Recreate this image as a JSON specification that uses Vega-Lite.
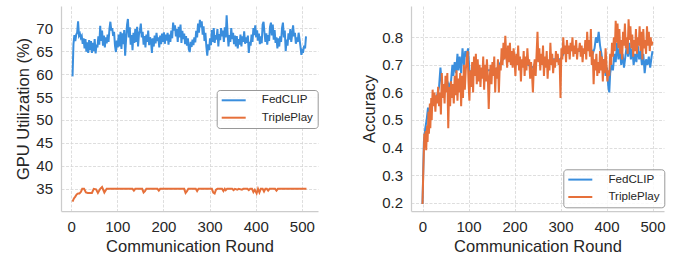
{
  "$schema": "https://vega.github.io/schema/vega-lite/v6.json",
  "padding": {"left": 15, "top": 6, "right": 0, "bottom": 0},
  "config": {
    "font": "Liberation Sans",
    "view": {"stroke": null},
    "axis": {"labelFontSize": 15, "titleFontSize": 16.5, "titleFontWeight": "normal", "labelColor": "#262626", "titleColor": "#262626", "ticks": false, "domainColor": "#cccccc", "domainWidth": 1.25, "gridColor": "#d5d5d5", "gridDash": [3, 1.5], "gridWidth": 0.8, "labelPadding": 8.5, "titlePadding": 4},
    "legend": {"title": null, "orient": "none", "padding": 4.5, "fillColor": "rgba(255,255,255,0.8)", "strokeColor": "#999999", "cornerRadius": 3, "symbolType": "M-4,0H4", "symbolSize": 36, "symbolStrokeWidth": 2, "symbolOffset": 6.7, "labelOffset": 22.3, "rowPadding": 4.4, "labelFontSize": 11.6, "labelColor": "#262626"},
    "line": {"strokeWidth": 2}
  },
  "bounds": "flush",
  "spacing": 93,
  "resolve": {"scale": {"color": "independent"}, "legend": {"color": "independent"}},
  "hconcat": [
    {
      "width": 257, "height": 205,
      "data": {"values": [
        {"r":3,"v":59.5,"m":"FedCLIP"},{"r":5,"v":66.5,"m":"FedCLIP"},{"r":7,"v":68.5,"m":"FedCLIP"},{"r":9,"v":67.2,"m":"FedCLIP"},{"r":11,"v":68.6,"m":"FedCLIP"},{"r":13,"v":69.0,"m":"FedCLIP"},{"r":15,"v":71.5,"m":"FedCLIP"},{"r":17,"v":68.4,"m":"FedCLIP"},{"r":19,"v":68.8,"m":"FedCLIP"},{"r":21,"v":67.9,"m":"FedCLIP"},{"r":23,"v":68.3,"m":"FedCLIP"},{"r":25,"v":66.6,"m":"FedCLIP"},{"r":27,"v":67.8,"m":"FedCLIP"},{"r":29,"v":65.6,"m":"FedCLIP"},{"r":31,"v":67.6,"m":"FedCLIP"},{"r":33,"v":64.9,"m":"FedCLIP"},{"r":35,"v":66.9,"m":"FedCLIP"},{"r":37,"v":64.6,"m":"FedCLIP"},{"r":39,"v":67.4,"m":"FedCLIP"},{"r":41,"v":65.2,"m":"FedCLIP"},{"r":43,"v":67.2,"m":"FedCLIP"},{"r":45,"v":64.6,"m":"FedCLIP"},{"r":47,"v":66.8,"m":"FedCLIP"},{"r":49,"v":65.0,"m":"FedCLIP"},{"r":51,"v":67.6,"m":"FedCLIP"},{"r":53,"v":64.5,"m":"FedCLIP"},{"r":55,"v":66.4,"m":"FedCLIP"},{"r":57,"v":65.8,"m":"FedCLIP"},{"r":59,"v":68.2,"m":"FedCLIP"},{"r":61,"v":66.4,"m":"FedCLIP"},{"r":63,"v":70.5,"m":"FedCLIP"},{"r":65,"v":67.2,"m":"FedCLIP"},{"r":67,"v":69.5,"m":"FedCLIP"},{"r":69,"v":66.2,"m":"FedCLIP"},{"r":71,"v":68.4,"m":"FedCLIP"},{"r":73,"v":65.8,"m":"FedCLIP"},{"r":75,"v":68.0,"m":"FedCLIP"},{"r":77,"v":66.7,"m":"FedCLIP"},{"r":79,"v":68.6,"m":"FedCLIP"},{"r":81,"v":67.0,"m":"FedCLIP"},{"r":83,"v":69.8,"m":"FedCLIP"},{"r":85,"v":71.4,"m":"FedCLIP"},{"r":87,"v":69.5,"m":"FedCLIP"},{"r":89,"v":70.0,"m":"FedCLIP"},{"r":91,"v":68.3,"m":"FedCLIP"},{"r":93,"v":69.2,"m":"FedCLIP"},{"r":95,"v":66.2,"m":"FedCLIP"},{"r":97,"v":64.8,"m":"FedCLIP"},{"r":99,"v":67.3,"m":"FedCLIP"},{"r":101,"v":65.8,"m":"FedCLIP"},{"r":103,"v":68.6,"m":"FedCLIP"},{"r":105,"v":66.0,"m":"FedCLIP"},{"r":107,"v":69.2,"m":"FedCLIP"},{"r":109,"v":65.5,"m":"FedCLIP"},{"r":111,"v":68.9,"m":"FedCLIP"},{"r":113,"v":66.5,"m":"FedCLIP"},{"r":115,"v":69.6,"m":"FedCLIP"},{"r":117,"v":64.0,"m":"FedCLIP"},{"r":119,"v":67.5,"m":"FedCLIP"},{"r":121,"v":70.6,"m":"FedCLIP"},{"r":123,"v":72.0,"m":"FedCLIP"},{"r":125,"v":68.0,"m":"FedCLIP"},{"r":127,"v":70.2,"m":"FedCLIP"},{"r":129,"v":66.4,"m":"FedCLIP"},{"r":131,"v":68.5,"m":"FedCLIP"},{"r":133,"v":65.2,"m":"FedCLIP"},{"r":135,"v":69.0,"m":"FedCLIP"},{"r":137,"v":66.8,"m":"FedCLIP"},{"r":139,"v":69.8,"m":"FedCLIP"},{"r":141,"v":67.0,"m":"FedCLIP"},{"r":143,"v":70.3,"m":"FedCLIP"},{"r":145,"v":66.0,"m":"FedCLIP"},{"r":147,"v":68.7,"m":"FedCLIP"},{"r":149,"v":69.5,"m":"FedCLIP"},{"r":151,"v":71.0,"m":"FedCLIP"},{"r":153,"v":68.0,"m":"FedCLIP"},{"r":155,"v":69.2,"m":"FedCLIP"},{"r":157,"v":66.4,"m":"FedCLIP"},{"r":159,"v":68.3,"m":"FedCLIP"},{"r":161,"v":65.8,"m":"FedCLIP"},{"r":163,"v":68.6,"m":"FedCLIP"},{"r":165,"v":67.0,"m":"FedCLIP"},{"r":167,"v":69.5,"m":"FedCLIP"},{"r":169,"v":66.3,"m":"FedCLIP"},{"r":171,"v":68.0,"m":"FedCLIP"},{"r":173,"v":67.4,"m":"FedCLIP"},{"r":175,"v":64.6,"m":"FedCLIP"},{"r":177,"v":67.8,"m":"FedCLIP"},{"r":179,"v":66.0,"m":"FedCLIP"},{"r":181,"v":68.4,"m":"FedCLIP"},{"r":183,"v":66.7,"m":"FedCLIP"},{"r":185,"v":69.0,"m":"FedCLIP"},{"r":187,"v":67.2,"m":"FedCLIP"},{"r":189,"v":68.0,"m":"FedCLIP"},{"r":191,"v":65.8,"m":"FedCLIP"},{"r":193,"v":68.4,"m":"FedCLIP"},{"r":195,"v":66.5,"m":"FedCLIP"},{"r":197,"v":68.8,"m":"FedCLIP"},{"r":199,"v":67.0,"m":"FedCLIP"},{"r":201,"v":69.1,"m":"FedCLIP"},{"r":203,"v":66.6,"m":"FedCLIP"},{"r":205,"v":68.6,"m":"FedCLIP"},{"r":207,"v":67.3,"m":"FedCLIP"},{"r":209,"v":69.0,"m":"FedCLIP"},{"r":211,"v":66.4,"m":"FedCLIP"},{"r":213,"v":68.6,"m":"FedCLIP"},{"r":215,"v":67.0,"m":"FedCLIP"},{"r":217,"v":69.5,"m":"FedCLIP"},{"r":219,"v":67.8,"m":"FedCLIP"},{"r":221,"v":71.2,"m":"FedCLIP"},{"r":223,"v":69.5,"m":"FedCLIP"},{"r":225,"v":70.6,"m":"FedCLIP"},{"r":227,"v":68.2,"m":"FedCLIP"},{"r":229,"v":69.8,"m":"FedCLIP"},{"r":231,"v":67.0,"m":"FedCLIP"},{"r":233,"v":70.3,"m":"FedCLIP"},{"r":235,"v":68.0,"m":"FedCLIP"},{"r":237,"v":70.8,"m":"FedCLIP"},{"r":239,"v":66.8,"m":"FedCLIP"},{"r":241,"v":69.4,"m":"FedCLIP"},{"r":243,"v":67.6,"m":"FedCLIP"},{"r":245,"v":68.8,"m":"FedCLIP"},{"r":247,"v":66.5,"m":"FedCLIP"},{"r":249,"v":68.3,"m":"FedCLIP"},{"r":251,"v":66.2,"m":"FedCLIP"},{"r":253,"v":67.8,"m":"FedCLIP"},{"r":255,"v":65.4,"m":"FedCLIP"},{"r":257,"v":64.8,"m":"FedCLIP"},{"r":259,"v":67.0,"m":"FedCLIP"},{"r":261,"v":65.9,"m":"FedCLIP"},{"r":263,"v":67.5,"m":"FedCLIP"},{"r":265,"v":66.3,"m":"FedCLIP"},{"r":267,"v":68.0,"m":"FedCLIP"},{"r":269,"v":66.9,"m":"FedCLIP"},{"r":271,"v":69.4,"m":"FedCLIP"},{"r":273,"v":68.0,"m":"FedCLIP"},{"r":275,"v":71.0,"m":"FedCLIP"},{"r":277,"v":69.0,"m":"FedCLIP"},{"r":279,"v":71.8,"m":"FedCLIP"},{"r":281,"v":70.2,"m":"FedCLIP"},{"r":283,"v":71.5,"m":"FedCLIP"},{"r":285,"v":68.6,"m":"FedCLIP"},{"r":287,"v":70.4,"m":"FedCLIP"},{"r":289,"v":67.2,"m":"FedCLIP"},{"r":291,"v":69.0,"m":"FedCLIP"},{"r":293,"v":66.0,"m":"FedCLIP"},{"r":295,"v":64.0,"m":"FedCLIP"},{"r":297,"v":66.5,"m":"FedCLIP"},{"r":299,"v":65.2,"m":"FedCLIP"},{"r":301,"v":67.8,"m":"FedCLIP"},{"r":303,"v":66.3,"m":"FedCLIP"},{"r":305,"v":69.6,"m":"FedCLIP"},{"r":307,"v":67.0,"m":"FedCLIP"},{"r":309,"v":70.0,"m":"FedCLIP"},{"r":311,"v":66.8,"m":"FedCLIP"},{"r":313,"v":68.5,"m":"FedCLIP"},{"r":315,"v":67.5,"m":"FedCLIP"},{"r":317,"v":69.8,"m":"FedCLIP"},{"r":319,"v":66.0,"m":"FedCLIP"},{"r":321,"v":68.7,"m":"FedCLIP"},{"r":323,"v":67.4,"m":"FedCLIP"},{"r":325,"v":70.0,"m":"FedCLIP"},{"r":327,"v":68.2,"m":"FedCLIP"},{"r":329,"v":69.5,"m":"FedCLIP"},{"r":331,"v":67.0,"m":"FedCLIP"},{"r":333,"v":70.2,"m":"FedCLIP"},{"r":335,"v":68.0,"m":"FedCLIP"},{"r":337,"v":72.8,"m":"FedCLIP"},{"r":339,"v":69.0,"m":"FedCLIP"},{"r":341,"v":66.0,"m":"FedCLIP"},{"r":343,"v":68.5,"m":"FedCLIP"},{"r":345,"v":67.0,"m":"FedCLIP"},{"r":347,"v":70.0,"m":"FedCLIP"},{"r":349,"v":67.6,"m":"FedCLIP"},{"r":351,"v":69.0,"m":"FedCLIP"},{"r":353,"v":66.5,"m":"FedCLIP"},{"r":355,"v":68.4,"m":"FedCLIP"},{"r":357,"v":66.0,"m":"FedCLIP"},{"r":359,"v":68.3,"m":"FedCLIP"},{"r":361,"v":65.6,"m":"FedCLIP"},{"r":363,"v":67.6,"m":"FedCLIP"},{"r":365,"v":66.4,"m":"FedCLIP"},{"r":367,"v":68.6,"m":"FedCLIP"},{"r":369,"v":66.0,"m":"FedCLIP"},{"r":371,"v":68.2,"m":"FedCLIP"},{"r":373,"v":67.0,"m":"FedCLIP"},{"r":375,"v":69.3,"m":"FedCLIP"},{"r":377,"v":66.6,"m":"FedCLIP"},{"r":379,"v":68.0,"m":"FedCLIP"},{"r":381,"v":66.8,"m":"FedCLIP"},{"r":383,"v":68.4,"m":"FedCLIP"},{"r":385,"v":64.6,"m":"FedCLIP"},{"r":387,"v":67.0,"m":"FedCLIP"},{"r":389,"v":66.2,"m":"FedCLIP"},{"r":391,"v":68.6,"m":"FedCLIP"},{"r":393,"v":67.0,"m":"FedCLIP"},{"r":395,"v":70.0,"m":"FedCLIP"},{"r":397,"v":68.5,"m":"FedCLIP"},{"r":399,"v":70.6,"m":"FedCLIP"},{"r":401,"v":68.0,"m":"FedCLIP"},{"r":403,"v":69.5,"m":"FedCLIP"},{"r":405,"v":67.3,"m":"FedCLIP"},{"r":407,"v":68.8,"m":"FedCLIP"},{"r":409,"v":66.5,"m":"FedCLIP"},{"r":411,"v":68.2,"m":"FedCLIP"},{"r":413,"v":66.7,"m":"FedCLIP"},{"r":415,"v":70.8,"m":"FedCLIP"},{"r":417,"v":71.4,"m":"FedCLIP"},{"r":419,"v":69.0,"m":"FedCLIP"},{"r":421,"v":67.0,"m":"FedCLIP"},{"r":423,"v":68.9,"m":"FedCLIP"},{"r":425,"v":66.4,"m":"FedCLIP"},{"r":427,"v":68.5,"m":"FedCLIP"},{"r":429,"v":67.2,"m":"FedCLIP"},{"r":431,"v":70.3,"m":"FedCLIP"},{"r":433,"v":71.2,"m":"FedCLIP"},{"r":435,"v":68.4,"m":"FedCLIP"},{"r":437,"v":70.8,"m":"FedCLIP"},{"r":439,"v":67.5,"m":"FedCLIP"},{"r":441,"v":69.6,"m":"FedCLIP"},{"r":443,"v":66.8,"m":"FedCLIP"},{"r":445,"v":68.0,"m":"FedCLIP"},{"r":447,"v":65.6,"m":"FedCLIP"},{"r":449,"v":67.8,"m":"FedCLIP"},{"r":451,"v":66.0,"m":"FedCLIP"},{"r":453,"v":68.2,"m":"FedCLIP"},{"r":455,"v":67.0,"m":"FedCLIP"},{"r":457,"v":70.0,"m":"FedCLIP"},{"r":459,"v":71.2,"m":"FedCLIP"},{"r":461,"v":68.0,"m":"FedCLIP"},{"r":463,"v":69.5,"m":"FedCLIP"},{"r":465,"v":65.0,"m":"FedCLIP"},{"r":467,"v":67.5,"m":"FedCLIP"},{"r":469,"v":66.2,"m":"FedCLIP"},{"r":471,"v":68.9,"m":"FedCLIP"},{"r":473,"v":67.5,"m":"FedCLIP"},{"r":475,"v":69.8,"m":"FedCLIP"},{"r":477,"v":67.0,"m":"FedCLIP"},{"r":479,"v":68.6,"m":"FedCLIP"},{"r":481,"v":70.6,"m":"FedCLIP"},{"r":483,"v":68.2,"m":"FedCLIP"},{"r":485,"v":69.0,"m":"FedCLIP"},{"r":487,"v":66.6,"m":"FedCLIP"},{"r":489,"v":68.0,"m":"FedCLIP"},{"r":491,"v":67.0,"m":"FedCLIP"},{"r":493,"v":69.0,"m":"FedCLIP"},{"r":495,"v":67.6,"m":"FedCLIP"},{"r":497,"v":66.0,"m":"FedCLIP"},{"r":499,"v":64.2,"m":"FedCLIP"},{"r":501,"v":65.2,"m":"FedCLIP"},{"r":503,"v":65.0,"m":"FedCLIP"},{"r":505,"v":66.2,"m":"FedCLIP"},{"r":507,"v":65.6,"m":"FedCLIP"},{"r":509,"v":68.2,"m":"FedCLIP"},
        {"r":3,"v":32.2,"m":"TriplePlay"},{"r":6,"v":32.9,"m":"TriplePlay"},{"r":9,"v":33.3,"m":"TriplePlay"},{"r":12,"v":33.8,"m":"TriplePlay"},{"r":15,"v":34.0,"m":"TriplePlay"},{"r":18,"v":34.0,"m":"TriplePlay"},{"r":21,"v":34.3,"m":"TriplePlay"},{"r":24,"v":35.0,"m":"TriplePlay"},{"r":28,"v":35.0,"m":"TriplePlay"},{"r":32,"v":34.2,"m":"TriplePlay"},{"r":36,"v":34.1,"m":"TriplePlay"},{"r":40,"v":34.1,"m":"TriplePlay"},{"r":45,"v":34.1,"m":"TriplePlay"},{"r":49,"v":35.0,"m":"TriplePlay"},{"r":54,"v":34.9,"m":"TriplePlay"},{"r":58,"v":34.1,"m":"TriplePlay"},{"r":63,"v":35.0,"m":"TriplePlay"},{"r":67,"v":35.4,"m":"TriplePlay"},{"r":72,"v":34.2,"m":"TriplePlay"},{"r":77,"v":35.0,"m":"TriplePlay"},{"r":80,"v":35.0,"m":"TriplePlay"},{"r":133,"v":35.0,"m":"TriplePlay"},{"r":136,"v":34.6,"m":"TriplePlay"},{"r":139,"v":35.0,"m":"TriplePlay"},{"r":154,"v":35.0,"m":"TriplePlay"},{"r":157,"v":34.2,"m":"TriplePlay"},{"r":160,"v":34.5,"m":"TriplePlay"},{"r":163,"v":35.0,"m":"TriplePlay"},{"r":187,"v":35.0,"m":"TriplePlay"},{"r":190,"v":34.6,"m":"TriplePlay"},{"r":193,"v":35.0,"m":"TriplePlay"},{"r":245,"v":35.0,"m":"TriplePlay"},{"r":248,"v":34.1,"m":"TriplePlay"},{"r":251,"v":34.5,"m":"TriplePlay"},{"r":254,"v":35.0,"m":"TriplePlay"},{"r":270,"v":35.0,"m":"TriplePlay"},{"r":273,"v":34.5,"m":"TriplePlay"},{"r":276,"v":35.0,"m":"TriplePlay"},{"r":305,"v":35.0,"m":"TriplePlay"},{"r":308,"v":34.2,"m":"TriplePlay"},{"r":311,"v":34.0,"m":"TriplePlay"},{"r":314,"v":34.8,"m":"TriplePlay"},{"r":317,"v":35.0,"m":"TriplePlay"},{"r":327,"v":35.0,"m":"TriplePlay"},{"r":330,"v":34.5,"m":"TriplePlay"},{"r":333,"v":35.0,"m":"TriplePlay"},{"r":335,"v":34.7,"m":"TriplePlay"},{"r":338,"v":35.0,"m":"TriplePlay"},{"r":349,"v":35.0,"m":"TriplePlay"},{"r":352,"v":34.7,"m":"TriplePlay"},{"r":355,"v":35.0,"m":"TriplePlay"},{"r":360,"v":34.8,"m":"TriplePlay"},{"r":363,"v":35.0,"m":"TriplePlay"},{"r":370,"v":34.8,"m":"TriplePlay"},{"r":373,"v":35.0,"m":"TriplePlay"},{"r":382,"v":35.0,"m":"TriplePlay"},{"r":385,"v":34.7,"m":"TriplePlay"},{"r":388,"v":35.0,"m":"TriplePlay"},{"r":392,"v":35.0,"m":"TriplePlay"},{"r":395,"v":34.3,"m":"TriplePlay"},{"r":398,"v":34.8,"m":"TriplePlay"},{"r":402,"v":34.0,"m":"TriplePlay"},{"r":405,"v":35.0,"m":"TriplePlay"},{"r":408,"v":34.2,"m":"TriplePlay"},{"r":411,"v":35.0,"m":"TriplePlay"},{"r":415,"v":35.0,"m":"TriplePlay"},{"r":418,"v":34.4,"m":"TriplePlay"},{"r":421,"v":35.0,"m":"TriplePlay"},{"r":424,"v":35.0,"m":"TriplePlay"},{"r":427,"v":34.6,"m":"TriplePlay"},{"r":430,"v":35.0,"m":"TriplePlay"},{"r":442,"v":35.0,"m":"TriplePlay"},{"r":445,"v":34.6,"m":"TriplePlay"},{"r":448,"v":35.0,"m":"TriplePlay"},{"r":510,"v":35.0,"m":"TriplePlay"}
      ]},
      "mark": {"type": "line", "strokeWidth": 2},
      "encoding": {
        "x": {"field": "r", "type": "quantitative", "title": "Communication Round", "scale": {"domain": [-22, 535], "nice": false, "zero": false}, "axis": {"values": [0, 100, 200, 300, 400, 500], "format": "d"}},
        "y": {"field": "v", "type": "quantitative", "title": "GPU Utilization (%)", "scale": {"domain": [30.17, 74.83], "nice": false, "zero": false}, "axis": {"values": [35, 40, 45, 50, 55, 60, 65, 70]}},
        "color": {"field": "m", "type": "nominal", "scale": {"domain": ["FedCLIP", "TriplePlay"], "range": ["#3a8edd", "#e6703a"]}, "legend": {"legendX": 155.7, "legendY": 84}}
      }
    },
    {
      "width": 253, "height": 205,
      "data": {"values": [
        {"r":0,"v":0.195,"m":"FedCLIP"},{"r":3,"v":0.42,"m":"FedCLIP"},{"r":6,"v":0.47,"m":"FedCLIP"},{"r":9,"v":0.5,"m":"FedCLIP"},{"r":12,"v":0.545,"m":"FedCLIP"},{"r":14,"v":0.5,"m":"FedCLIP"},{"r":17,"v":0.55,"m":"FedCLIP"},{"r":20,"v":0.56,"m":"FedCLIP"},{"r":24,"v":0.57,"m":"FedCLIP"},{"r":28,"v":0.57,"m":"FedCLIP"},{"r":32,"v":0.59,"m":"FedCLIP"},{"r":36,"v":0.62,"m":"FedCLIP"},{"r":39,"v":0.69,"m":"FedCLIP"},{"r":42,"v":0.63,"m":"FedCLIP"},{"r":46,"v":0.62,"m":"FedCLIP"},{"r":50,"v":0.63,"m":"FedCLIP"},{"r":54,"v":0.64,"m":"FedCLIP"},{"r":58,"v":0.62,"m":"FedCLIP"},{"r":62,"v":0.64,"m":"FedCLIP"},{"r":65,"v":0.7,"m":"FedCLIP"},{"r":67,"v":0.66,"m":"FedCLIP"},{"r":70,"v":0.71,"m":"FedCLIP"},{"r":73,"v":0.67,"m":"FedCLIP"},{"r":76,"v":0.74,"m":"FedCLIP"},{"r":78,"v":0.68,"m":"FedCLIP"},{"r":81,"v":0.73,"m":"FedCLIP"},{"r":84,"v":0.67,"m":"FedCLIP"},{"r":87,"v":0.76,"m":"FedCLIP"},{"r":90,"v":0.7,"m":"FedCLIP"},{"r":93,"v":0.75,"m":"FedCLIP"},{"r":96,"v":0.73,"m":"FedCLIP"},{"r":99,"v":0.76,"m":"FedCLIP"},{"r":102,"v":0.68,"m":"FedCLIP"},{"r":106,"v":0.67,"m":"FedCLIP"},{"r":110,"v":0.68,"m":"FedCLIP"},{"r":115,"v":0.69,"m":"FedCLIP"},{"r":120,"v":0.68,"m":"FedCLIP"},{"r":130,"v":0.68,"m":"FedCLIP"},{"r":140,"v":0.68,"m":"FedCLIP"},{"r":150,"v":0.68,"m":"FedCLIP"},{"r":160,"v":0.68,"m":"FedCLIP"},{"r":170,"v":0.71,"m":"FedCLIP"},{"r":180,"v":0.73,"m":"FedCLIP"},{"r":190,"v":0.73,"m":"FedCLIP"},{"r":200,"v":0.72,"m":"FedCLIP"},{"r":210,"v":0.71,"m":"FedCLIP"},{"r":220,"v":0.7,"m":"FedCLIP"},{"r":230,"v":0.7,"m":"FedCLIP"},{"r":240,"v":0.69,"m":"FedCLIP"},{"r":250,"v":0.72,"m":"FedCLIP"},{"r":260,"v":0.72,"m":"FedCLIP"},{"r":270,"v":0.71,"m":"FedCLIP"},{"r":280,"v":0.72,"m":"FedCLIP"},{"r":290,"v":0.72,"m":"FedCLIP"},{"r":300,"v":0.72,"m":"FedCLIP"},{"r":310,"v":0.75,"m":"FedCLIP"},{"r":320,"v":0.75,"m":"FedCLIP"},{"r":330,"v":0.76,"m":"FedCLIP"},{"r":340,"v":0.75,"m":"FedCLIP"},{"r":350,"v":0.75,"m":"FedCLIP"},{"r":360,"v":0.76,"m":"FedCLIP"},{"r":366,"v":0.76,"m":"FedCLIP"},{"r":370,"v":0.74,"m":"FedCLIP"},{"r":374,"v":0.76,"m":"FedCLIP"},{"r":377,"v":0.8,"m":"FedCLIP"},{"r":380,"v":0.78,"m":"FedCLIP"},{"r":383,"v":0.82,"m":"FedCLIP"},{"r":386,"v":0.77,"m":"FedCLIP"},{"r":389,"v":0.74,"m":"FedCLIP"},{"r":392,"v":0.7,"m":"FedCLIP"},{"r":395,"v":0.72,"m":"FedCLIP"},{"r":398,"v":0.66,"m":"FedCLIP"},{"r":401,"v":0.69,"m":"FedCLIP"},{"r":404,"v":0.62,"m":"FedCLIP"},{"r":406,"v":0.6,"m":"FedCLIP"},{"r":408,"v":0.67,"m":"FedCLIP"},{"r":411,"v":0.7,"m":"FedCLIP"},{"r":414,"v":0.68,"m":"FedCLIP"},{"r":417,"v":0.74,"m":"FedCLIP"},{"r":420,"v":0.71,"m":"FedCLIP"},{"r":423,"v":0.78,"m":"FedCLIP"},{"r":426,"v":0.72,"m":"FedCLIP"},{"r":429,"v":0.76,"m":"FedCLIP"},{"r":432,"v":0.7,"m":"FedCLIP"},{"r":435,"v":0.74,"m":"FedCLIP"},{"r":438,"v":0.69,"m":"FedCLIP"},{"r":441,"v":0.73,"m":"FedCLIP"},{"r":444,"v":0.77,"m":"FedCLIP"},{"r":447,"v":0.73,"m":"FedCLIP"},{"r":450,"v":0.78,"m":"FedCLIP"},{"r":453,"v":0.72,"m":"FedCLIP"},{"r":456,"v":0.76,"m":"FedCLIP"},{"r":459,"v":0.7,"m":"FedCLIP"},{"r":462,"v":0.74,"m":"FedCLIP"},{"r":465,"v":0.71,"m":"FedCLIP"},{"r":468,"v":0.77,"m":"FedCLIP"},{"r":471,"v":0.72,"m":"FedCLIP"},{"r":474,"v":0.75,"m":"FedCLIP"},{"r":477,"v":0.7,"m":"FedCLIP"},{"r":480,"v":0.74,"m":"FedCLIP"},{"r":483,"v":0.67,"m":"FedCLIP"},{"r":486,"v":0.72,"m":"FedCLIP"},{"r":489,"v":0.7,"m":"FedCLIP"},{"r":492,"v":0.73,"m":"FedCLIP"},{"r":495,"v":0.69,"m":"FedCLIP"},{"r":498,"v":0.73,"m":"FedCLIP"},{"r":500,"v":0.75,"m":"FedCLIP"},
        {"r":0,"v":0.195,"m":"TriplePlay"},{"r":2,"v":0.33,"m":"TriplePlay"},{"r":4,"v":0.45,"m":"TriplePlay"},{"r":5,"v":0.4,"m":"TriplePlay"},{"r":7,"v":0.46,"m":"TriplePlay"},{"r":8,"v":0.39,"m":"TriplePlay"},{"r":10,"v":0.48,"m":"TriplePlay"},{"r":11,"v":0.42,"m":"TriplePlay"},{"r":13,"v":0.53,"m":"TriplePlay"},{"r":14,"v":0.45,"m":"TriplePlay"},{"r":16,"v":0.56,"m":"TriplePlay"},{"r":17,"v":0.47,"m":"TriplePlay"},{"r":19,"v":0.58,"m":"TriplePlay"},{"r":20,"v":0.5,"m":"TriplePlay"},{"r":22,"v":0.61,"m":"TriplePlay"},{"r":24,"v":0.55,"m":"TriplePlay"},{"r":26,"v":0.6,"m":"TriplePlay"},{"r":28,"v":0.53,"m":"TriplePlay"},{"r":30,"v":0.59,"m":"TriplePlay"},{"r":32,"v":0.56,"m":"TriplePlay"},{"r":34,"v":0.62,"m":"TriplePlay"},{"r":36,"v":0.55,"m":"TriplePlay"},{"r":38,"v":0.6,"m":"TriplePlay"},{"r":40,"v":0.52,"m":"TriplePlay"},{"r":42,"v":0.67,"m":"TriplePlay"},{"r":44,"v":0.58,"m":"TriplePlay"},{"r":46,"v":0.63,"m":"TriplePlay"},{"r":48,"v":0.56,"m":"TriplePlay"},{"r":50,"v":0.66,"m":"TriplePlay"},{"r":52,"v":0.6,"m":"TriplePlay"},{"r":54,"v":0.67,"m":"TriplePlay"},{"r":56,"v":0.47,"m":"TriplePlay"},{"r":58,"v":0.62,"m":"TriplePlay"},{"r":60,"v":0.55,"m":"TriplePlay"},{"r":62,"v":0.64,"m":"TriplePlay"},{"r":64,"v":0.58,"m":"TriplePlay"},{"r":66,"v":0.63,"m":"TriplePlay"},{"r":68,"v":0.56,"m":"TriplePlay"},{"r":70,"v":0.66,"m":"TriplePlay"},{"r":72,"v":0.59,"m":"TriplePlay"},{"r":74,"v":0.68,"m":"TriplePlay"},{"r":76,"v":0.57,"m":"TriplePlay"},{"r":78,"v":0.65,"m":"TriplePlay"},{"r":80,"v":0.6,"m":"TriplePlay"},{"r":82,"v":0.67,"m":"TriplePlay"},{"r":84,"v":0.55,"m":"TriplePlay"},{"r":86,"v":0.66,"m":"TriplePlay"},{"r":88,"v":0.58,"m":"TriplePlay"},{"r":90,"v":0.7,"m":"TriplePlay"},{"r":92,"v":0.61,"m":"TriplePlay"},{"r":94,"v":0.68,"m":"TriplePlay"},{"r":96,"v":0.72,"m":"TriplePlay"},{"r":98,"v":0.75,"m":"TriplePlay"},{"r":100,"v":0.64,"m":"TriplePlay"},{"r":102,"v":0.57,"m":"TriplePlay"},{"r":104,"v":0.68,"m":"TriplePlay"},{"r":106,"v":0.62,"m":"TriplePlay"},{"r":108,"v":0.71,"m":"TriplePlay"},{"r":110,"v":0.6,"m":"TriplePlay"},{"r":112,"v":0.73,"m":"TriplePlay"},{"r":114,"v":0.66,"m":"TriplePlay"},{"r":116,"v":0.74,"m":"TriplePlay"},{"r":118,"v":0.63,"m":"TriplePlay"},{"r":120,"v":0.72,"m":"TriplePlay"},{"r":122,"v":0.64,"m":"TriplePlay"},{"r":124,"v":0.7,"m":"TriplePlay"},{"r":126,"v":0.62,"m":"TriplePlay"},{"r":128,"v":0.69,"m":"TriplePlay"},{"r":130,"v":0.65,"m":"TriplePlay"},{"r":132,"v":0.73,"m":"TriplePlay"},{"r":134,"v":0.61,"m":"TriplePlay"},{"r":136,"v":0.7,"m":"TriplePlay"},{"r":138,"v":0.64,"m":"TriplePlay"},{"r":140,"v":0.72,"m":"TriplePlay"},{"r":142,"v":0.66,"m":"TriplePlay"},{"r":144,"v":0.54,"m":"TriplePlay"},{"r":146,"v":0.65,"m":"TriplePlay"},{"r":148,"v":0.7,"m":"TriplePlay"},{"r":150,"v":0.63,"m":"TriplePlay"},{"r":152,"v":0.71,"m":"TriplePlay"},{"r":154,"v":0.66,"m":"TriplePlay"},{"r":156,"v":0.73,"m":"TriplePlay"},{"r":158,"v":0.6,"m":"TriplePlay"},{"r":160,"v":0.69,"m":"TriplePlay"},{"r":162,"v":0.65,"m":"TriplePlay"},{"r":164,"v":0.72,"m":"TriplePlay"},{"r":166,"v":0.6,"m":"TriplePlay"},{"r":168,"v":0.7,"m":"TriplePlay"},{"r":170,"v":0.68,"m":"TriplePlay"},{"r":172,"v":0.76,"m":"TriplePlay"},{"r":174,"v":0.7,"m":"TriplePlay"},{"r":176,"v":0.78,"m":"TriplePlay"},{"r":178,"v":0.72,"m":"TriplePlay"},{"r":180,"v":0.805,"m":"TriplePlay"},{"r":182,"v":0.74,"m":"TriplePlay"},{"r":184,"v":0.69,"m":"TriplePlay"},{"r":186,"v":0.77,"m":"TriplePlay"},{"r":188,"v":0.71,"m":"TriplePlay"},{"r":190,"v":0.78,"m":"TriplePlay"},{"r":192,"v":0.7,"m":"TriplePlay"},{"r":194,"v":0.75,"m":"TriplePlay"},{"r":196,"v":0.69,"m":"TriplePlay"},{"r":198,"v":0.76,"m":"TriplePlay"},{"r":200,"v":0.72,"m":"TriplePlay"},{"r":202,"v":0.66,"m":"TriplePlay"},{"r":204,"v":0.74,"m":"TriplePlay"},{"r":206,"v":0.7,"m":"TriplePlay"},{"r":208,"v":0.77,"m":"TriplePlay"},{"r":210,"v":0.68,"m":"TriplePlay"},{"r":212,"v":0.73,"m":"TriplePlay"},{"r":214,"v":0.64,"m":"TriplePlay"},{"r":216,"v":0.72,"m":"TriplePlay"},{"r":218,"v":0.69,"m":"TriplePlay"},{"r":220,"v":0.75,"m":"TriplePlay"},{"r":222,"v":0.66,"m":"TriplePlay"},{"r":224,"v":0.73,"m":"TriplePlay"},{"r":226,"v":0.68,"m":"TriplePlay"},{"r":228,"v":0.76,"m":"TriplePlay"},{"r":230,"v":0.7,"m":"TriplePlay"},{"r":232,"v":0.72,"m":"TriplePlay"},{"r":234,"v":0.65,"m":"TriplePlay"},{"r":236,"v":0.71,"m":"TriplePlay"},{"r":238,"v":0.67,"m":"TriplePlay"},{"r":240,"v":0.6,"m":"TriplePlay"},{"r":242,"v":0.69,"m":"TriplePlay"},{"r":244,"v":0.72,"m":"TriplePlay"},{"r":246,"v":0.66,"m":"TriplePlay"},{"r":248,"v":0.74,"m":"TriplePlay"},{"r":250,"v":0.82,"m":"TriplePlay"},{"r":252,"v":0.71,"m":"TriplePlay"},{"r":254,"v":0.76,"m":"TriplePlay"},{"r":256,"v":0.68,"m":"TriplePlay"},{"r":258,"v":0.74,"m":"TriplePlay"},{"r":260,"v":0.7,"m":"TriplePlay"},{"r":262,"v":0.77,"m":"TriplePlay"},{"r":264,"v":0.66,"m":"TriplePlay"},{"r":266,"v":0.73,"m":"TriplePlay"},{"r":268,"v":0.69,"m":"TriplePlay"},{"r":270,"v":0.75,"m":"TriplePlay"},{"r":272,"v":0.65,"m":"TriplePlay"},{"r":274,"v":0.72,"m":"TriplePlay"},{"r":276,"v":0.68,"m":"TriplePlay"},{"r":278,"v":0.78,"m":"TriplePlay"},{"r":280,"v":0.7,"m":"TriplePlay"},{"r":282,"v":0.74,"m":"TriplePlay"},{"r":284,"v":0.67,"m":"TriplePlay"},{"r":286,"v":0.72,"m":"TriplePlay"},{"r":288,"v":0.69,"m":"TriplePlay"},{"r":290,"v":0.75,"m":"TriplePlay"},{"r":292,"v":0.71,"m":"TriplePlay"},{"r":294,"v":0.74,"m":"TriplePlay"},{"r":296,"v":0.7,"m":"TriplePlay"},{"r":298,"v":0.72,"m":"TriplePlay"},{"r":300,"v":0.58,"m":"TriplePlay"},{"r":302,"v":0.76,"m":"TriplePlay"},{"r":304,"v":0.72,"m":"TriplePlay"},{"r":306,"v":0.8,"m":"TriplePlay"},{"r":308,"v":0.74,"m":"TriplePlay"},{"r":310,"v":0.77,"m":"TriplePlay"},{"r":312,"v":0.71,"m":"TriplePlay"},{"r":314,"v":0.79,"m":"TriplePlay"},{"r":316,"v":0.74,"m":"TriplePlay"},{"r":318,"v":0.77,"m":"TriplePlay"},{"r":320,"v":0.72,"m":"TriplePlay"},{"r":322,"v":0.78,"m":"TriplePlay"},{"r":324,"v":0.75,"m":"TriplePlay"},{"r":326,"v":0.8,"m":"TriplePlay"},{"r":328,"v":0.73,"m":"TriplePlay"},{"r":330,"v":0.77,"m":"TriplePlay"},{"r":332,"v":0.74,"m":"TriplePlay"},{"r":334,"v":0.79,"m":"TriplePlay"},{"r":336,"v":0.72,"m":"TriplePlay"},{"r":338,"v":0.76,"m":"TriplePlay"},{"r":340,"v":0.75,"m":"TriplePlay"},{"r":342,"v":0.78,"m":"TriplePlay"},{"r":344,"v":0.73,"m":"TriplePlay"},{"r":346,"v":0.77,"m":"TriplePlay"},{"r":348,"v":0.71,"m":"TriplePlay"},{"r":350,"v":0.76,"m":"TriplePlay"},{"r":352,"v":0.74,"m":"TriplePlay"},{"r":354,"v":0.79,"m":"TriplePlay"},{"r":356,"v":0.72,"m":"TriplePlay"},{"r":358,"v":0.82,"m":"TriplePlay"},{"r":360,"v":0.75,"m":"TriplePlay"},{"r":362,"v":0.79,"m":"TriplePlay"},{"r":364,"v":0.73,"m":"TriplePlay"},{"r":366,"v":0.83,"m":"TriplePlay"},{"r":368,"v":0.7,"m":"TriplePlay"},{"r":370,"v":0.75,"m":"TriplePlay"},{"r":372,"v":0.63,"m":"TriplePlay"},{"r":374,"v":0.72,"m":"TriplePlay"},{"r":376,"v":0.68,"m":"TriplePlay"},{"r":378,"v":0.74,"m":"TriplePlay"},{"r":380,"v":0.66,"m":"TriplePlay"},{"r":382,"v":0.71,"m":"TriplePlay"},{"r":384,"v":0.67,"m":"TriplePlay"},{"r":386,"v":0.75,"m":"TriplePlay"},{"r":388,"v":0.68,"m":"TriplePlay"},{"r":390,"v":0.73,"m":"TriplePlay"},{"r":392,"v":0.64,"m":"TriplePlay"},{"r":394,"v":0.72,"m":"TriplePlay"},{"r":396,"v":0.67,"m":"TriplePlay"},{"r":398,"v":0.76,"m":"TriplePlay"},{"r":400,"v":0.7,"m":"TriplePlay"},{"r":402,"v":0.64,"m":"TriplePlay"},{"r":404,"v":0.68,"m":"TriplePlay"},{"r":406,"v":0.66,"m":"TriplePlay"},{"r":408,"v":0.74,"m":"TriplePlay"},{"r":410,"v":0.7,"m":"TriplePlay"},{"r":412,"v":0.78,"m":"TriplePlay"},{"r":414,"v":0.73,"m":"TriplePlay"},{"r":416,"v":0.8,"m":"TriplePlay"},{"r":418,"v":0.75,"m":"TriplePlay"},{"r":420,"v":0.86,"m":"TriplePlay"},{"r":422,"v":0.78,"m":"TriplePlay"},{"r":424,"v":0.85,"m":"TriplePlay"},{"r":426,"v":0.76,"m":"TriplePlay"},{"r":428,"v":0.83,"m":"TriplePlay"},{"r":430,"v":0.74,"m":"TriplePlay"},{"r":432,"v":0.79,"m":"TriplePlay"},{"r":434,"v":0.72,"m":"TriplePlay"},{"r":436,"v":0.82,"m":"TriplePlay"},{"r":438,"v":0.77,"m":"TriplePlay"},{"r":440,"v":0.85,"m":"TriplePlay"},{"r":442,"v":0.76,"m":"TriplePlay"},{"r":444,"v":0.8,"m":"TriplePlay"},{"r":446,"v":0.74,"m":"TriplePlay"},{"r":448,"v":0.865,"m":"TriplePlay"},{"r":450,"v":0.79,"m":"TriplePlay"},{"r":452,"v":0.84,"m":"TriplePlay"},{"r":454,"v":0.76,"m":"TriplePlay"},{"r":456,"v":0.81,"m":"TriplePlay"},{"r":458,"v":0.73,"m":"TriplePlay"},{"r":460,"v":0.79,"m":"TriplePlay"},{"r":462,"v":0.75,"m":"TriplePlay"},{"r":464,"v":0.83,"m":"TriplePlay"},{"r":466,"v":0.74,"m":"TriplePlay"},{"r":468,"v":0.8,"m":"TriplePlay"},{"r":470,"v":0.77,"m":"TriplePlay"},{"r":472,"v":0.84,"m":"TriplePlay"},{"r":474,"v":0.75,"m":"TriplePlay"},{"r":476,"v":0.82,"m":"TriplePlay"},{"r":478,"v":0.72,"m":"TriplePlay"},{"r":480,"v":0.83,"m":"TriplePlay"},{"r":482,"v":0.76,"m":"TriplePlay"},{"r":484,"v":0.79,"m":"TriplePlay"},{"r":486,"v":0.74,"m":"TriplePlay"},{"r":488,"v":0.84,"m":"TriplePlay"},{"r":490,"v":0.77,"m":"TriplePlay"},{"r":492,"v":0.82,"m":"TriplePlay"},{"r":494,"v":0.75,"m":"TriplePlay"},{"r":496,"v":0.8,"m":"TriplePlay"},{"r":498,"v":0.77,"m":"TriplePlay"},{"r":500,"v":0.785,"m":"TriplePlay"}
      ]},
      "mark": {"type": "line", "strokeWidth": 2},
      "encoding": {
        "x": {"field": "r", "type": "quantitative", "title": "Communication Round", "scale": {"domain": [-25, 525], "nice": false, "zero": false}, "axis": {"values": [0, 100, 200, 300, 400, 500], "format": "d"}},
        "y": {"field": "v", "type": "quantitative", "title": "Accuracy", "scale": {"domain": [0.1699, 0.9135], "nice": false, "zero": false}, "axis": {"values": [0.2, 0.3, 0.4, 0.5, 0.6, 0.7, 0.8], "format": ".1f"}},
        "color": {"field": "m", "type": "nominal", "scale": {"domain": ["FedCLIP", "TriplePlay"], "range": ["#3a8edd", "#e6703a"]}, "legend": {"legendX": 152.3, "legendY": 163.3}}
      }
    }
  ]
}
